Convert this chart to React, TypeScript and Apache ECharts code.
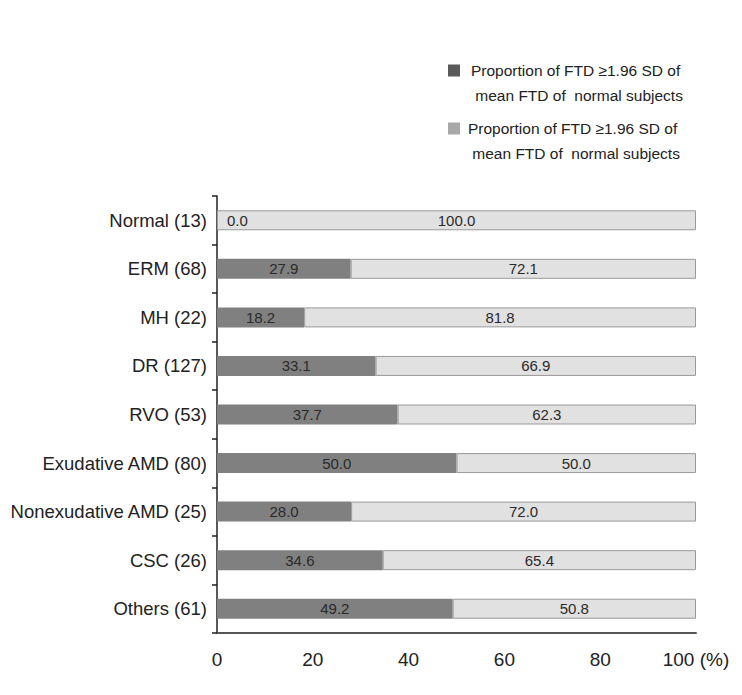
import React, { useEffect, useRef } from "react";
import * as echarts from "echarts";

const categories = [
  "Normal (13)",
  "ERM (68)",
  "MH (22)",
  "DR (127)",
  "RVO (53)",
  "Exudative AMD (80)",
  "Nonexudative AMD (25)",
  "CSC (26)",
  "Others (61)",
];
const darkValues = [0.0, 27.9, 18.2, 33.1, 37.7, 50.0, 28.0, 34.6, 49.2];
const lightValues = [100.0, 72.1, 81.8, 66.9, 62.3, 50.0, 72.0, 65.4, 50.8];
const legendText1 = " \nProportion of FTD \u22651.96 SD of\n mean FTD of  normal subjects";
const legendText2 = " \nProportion of FTD \u22651.96 SD of\n mean FTD of  normal subjects";

const FONT = "'Liberation Sans', Arial, Helvetica, sans-serif";

export default function App() {
  const ref = useRef<HTMLDivElement>(null);
  useEffect(() => {
    if (!ref.current) return;
    const chart = echarts.init(ref.current, undefined, { renderer: "svg" });
    const legendBase = {
      orient: "vertical",
      left: 448,
      padding: 0,
      itemWidth: 12,
      itemHeight: 12,
      itemGap: 0,
      icon: "rect",
    };
    const legendText = (padLeft: number) => ({
      fontFamily: FONT,
      fontSize: 15.5,
      color: "#222",
      lineHeight: 25,
      padding: [0, 0, 0, padLeft],
    });
    chart.setOption({
      animation: false,
      textStyle: { fontFamily: FONT },
      legend: [
        {
          ...legendBase,
          top: 33,
          textStyle: legendText(6),
          data: [{ name: "s1", itemStyle: { color: "#5a5a5a", borderWidth: 0 } }],
          formatter: () => legendText1,
        },
        {
          ...legendBase,
          top: 91,
          textStyle: legendText(3),
          data: [{ name: "s2", itemStyle: { color: "#a8a8a8", borderWidth: 0 } }],
          formatter: () => legendText2,
        },
      ],
      grid: { left: 217, right: 46, top: 196, bottom: 62, containLabel: false },
      xAxis: {
        type: "value",
        min: 0,
        max: 100,
        interval: 20,
        axisLine: { show: true, lineStyle: { color: "#555", width: 2 } },
        axisTick: { show: false },
        splitLine: { show: false },
        axisLabel: {
          margin: 17,
          fontSize: 19,
          color: "#222",
          fontFamily: FONT,
          formatter: (v: number) => (v === 100 ? "100 (%)" : String(v)),
        },
      },
      yAxis: {
        type: "category",
        inverse: true,
        data: categories,
        axisLine: { show: true, lineStyle: { color: "#222", width: 1.5 } },
        axisTick: { show: true, length: 5, lineStyle: { color: "#222", width: 1.5 } },
        axisLabel: { margin: 10, fontSize: 18.5, color: "#222", fontFamily: FONT },
      },
      series: [
        {
          name: "s1",
          type: "bar",
          stack: "total",
          barWidth: 20,
          data: darkValues.map((v) =>
            v === 0
              ? { value: v, label: { position: "right", distance: 10 } }
              : v
          ),
          itemStyle: { color: "#808080" },
          label: {
            show: true,
            position: "inside",
            color: "#2a2a2a",
            fontSize: 15,
            fontFamily: FONT,
            formatter: (p: any) => Number(p.value).toFixed(1),
          },
        },
        {
          name: "s2",
          type: "bar",
          stack: "total",
          barWidth: 20,
          data: lightValues,
          itemStyle: { color: "#e1e1e1", borderColor: "#9a9a9a", borderWidth: 1 },
          label: {
            show: true,
            position: "inside",
            color: "#2a2a2a",
            fontSize: 15,
            fontFamily: FONT,
            formatter: (p: any) => Number(p.value).toFixed(1),
          },
        },
      ],
    });
    return () => chart.dispose();
  }, []);
  return <div ref={ref} style={{ width: 742, height: 695, margin: -8 }} />;
}
